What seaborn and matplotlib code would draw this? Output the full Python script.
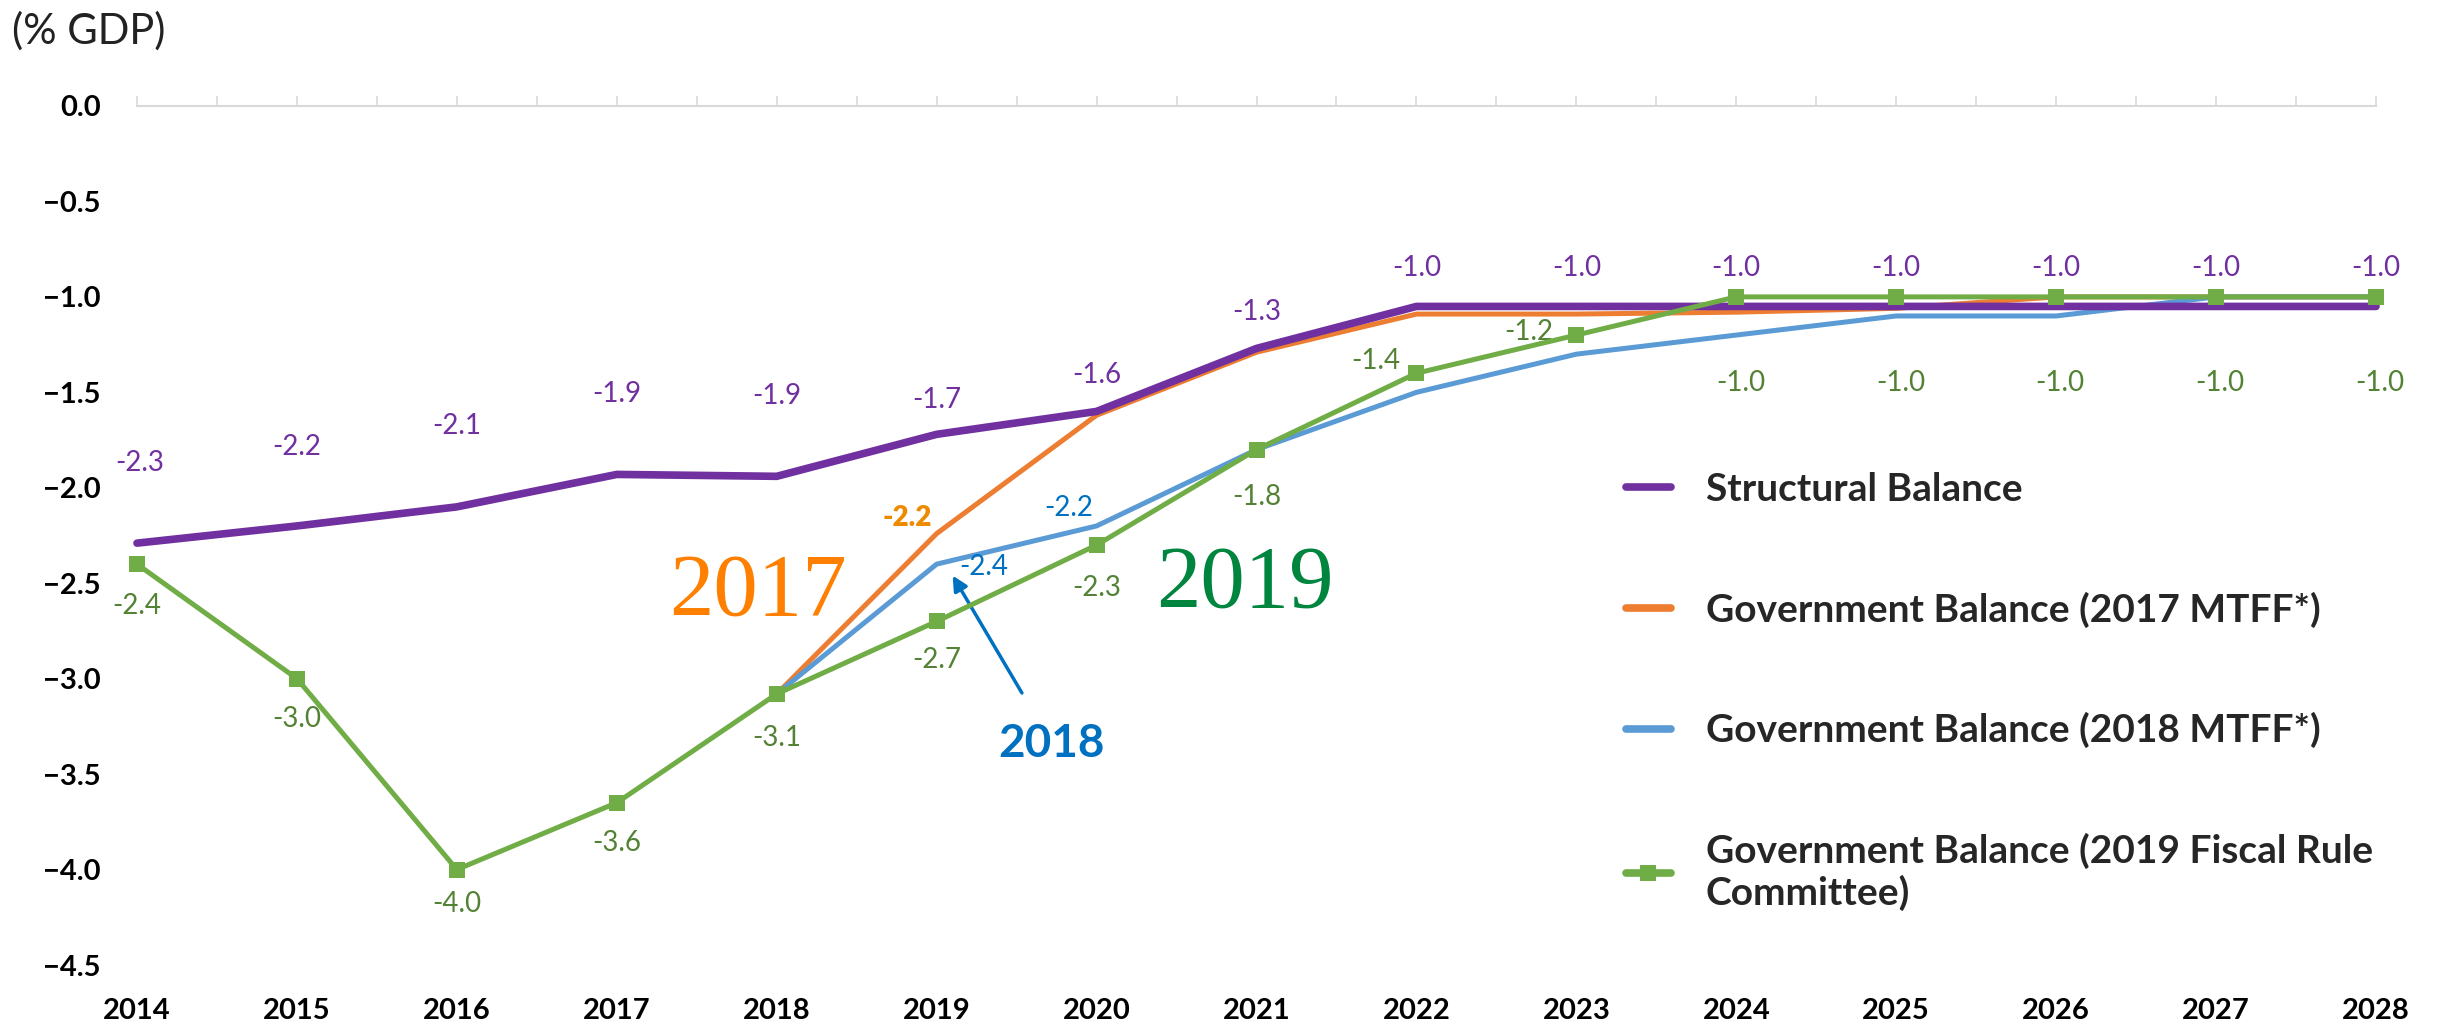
import matplotlib
matplotlib.use('Agg')
import matplotlib.pyplot as plt
from matplotlib.lines import Line2D
import pandas as pd
import seaborn as sns

# values (% GDP)
years = list(range(2014, 2029))
structural = [-2.29, -2.2, -2.1, -1.93, -1.94, -1.72, -1.6, -1.27,
              -1.05, -1.05, -1.05, -1.05, -1.05, -1.05, -1.05]
structural_labels = ['-2.3', '-2.2', '-2.1', '-1.9', '-1.9', '-1.7', '-1.6', '-1.3',
                     '-1.0', '-1.0', '-1.0', '-1.0', '-1.0', '-1.0', '-1.0']

mtff_years = list(range(2018, 2029))
mtff_2017 = [-3.08, -2.24, -1.62, -1.29, -1.09, -1.09, -1.08, -1.06, -1.0, -1.0, -1.0]
mtff_2018 = [-3.08, -2.4, -2.2, -1.8, -1.5, -1.3, -1.2, -1.1, -1.1, -1.0, -1.0]

frc_2019 = [-2.4, -3.0, -4.0, -3.65, -3.08, -2.7, -2.3, -1.8,
            -1.4, -1.2, -1.0, -1.0, -1.0, -1.0, -1.0]
frc_labels = ['-2.4', '-3.0', '-4.0', '-3.6', '-3.1', '-2.7', '-2.3', '-1.8',
              '-1.4', '-1.2', '-1.0', '-1.0', '-1.0', '-1.0', '-1.0']

legend_labels = ['Structural Balance',
                 'Government Balance (2017 MTFF*)',
                 'Government Balance (2018 MTFF*)',
                 'Government Balance (2019 Fiscal Rule\nCommittee)']

# colours
c_purple, c_orange, c_blue, c_green = '#7030A0', '#ED7D31', '#5B9BD5', '#70AD47'

sns.set_theme(style='white')
plt.rcParams['font.family'] = ['Lato', 'DejaVu Sans']

fig = plt.figure(figsize=(24.4, 10.3), dpi=100)
ax = fig.add_axes([137 / 2440, 1 - 965 / 1030, (2376 - 137) / 2440, (965 - 106) / 1030])

df_struct = pd.DataFrame({'year': years, 'value': structural})
df_17 = pd.DataFrame({'year': mtff_years, 'value': mtff_2017})
df_18 = pd.DataFrame({'year': mtff_years, 'value': mtff_2018})
df_19 = pd.DataFrame({'year': years, 'value': frc_2019})

sns.lineplot(data=df_17, x='year', y='value', ax=ax, color=c_orange, lw=3.6, zorder=2)
sns.lineplot(data=df_18, x='year', y='value', ax=ax, color=c_blue, lw=3.6, zorder=3)
sns.lineplot(data=df_struct, x='year', y='value', ax=ax, color=c_purple, lw=5.5, zorder=4)
sns.lineplot(data=df_19, x='year', y='value', ax=ax, color=c_green, lw=3.6, zorder=5,
             marker='s', markersize=11, markeredgewidth=0)
for l in ax.lines:
    l.set_clip_on(False)

# data labels
struct_off = [(2, 58), (0, 57), (0, 58), (0, 58), (0, 58), (0, 25), (0, 26), (0, 26),
              (0, 28), (0, 28), (0, 28), (0, 28), (0, 28), (0, 28), (0, 28)]
for x, y, t, (dx, dy) in zip(years, structural, structural_labels, struct_off):
    ax.annotate(t, (x, y), xytext=(dx, dy), textcoords='offset points',
                ha='center', va='center', color=c_purple, fontsize=20)

frc_off = [(0, -30), (0, -29), (0, -25), (0, -29), (0, -32), (0, -28), (0, -31), (0, -34),
           (-29, 9), (-34, 2), (3, -62), (3, -62), (3, -62), (3, -62), (3, -62)]
for x, y, t, (dx, dy) in zip(years, frc_2019, frc_labels, frc_off):
    ax.annotate(t, (x, y), xytext=(dx, dy), textcoords='offset points',
                ha='center', va='center', color='#548235', fontsize=20)

ax.annotate('-2.2', (mtff_years[1], mtff_2017[1]), xytext=(-21, 11), textcoords='offset points',
            ha='center', va='center', color='#EE8A00', fontsize=20, fontweight='heavy')
ax.annotate('-2.4', (mtff_years[1], mtff_2018[1]), xytext=(34, -2), textcoords='offset points',
            ha='center', va='center', color='#0070C0', fontsize=20)
ax.annotate('-2.2', (mtff_years[2], mtff_2018[2]), xytext=(-20, 13), textcoords='offset points',
            ha='center', va='center', color='#0070C0', fontsize=20)

# vintage annotations
ax.text(2017.88, -2.55, '2017', color='#FF8000', fontsize=64, ha='center', va='center',
        family=['Liberation Serif'])
ax.text(2020.93, -2.51, '2019', color='#00853F', fontsize=64, ha='center', va='center',
        family=['Liberation Serif'])
ax.annotate('2018', xy=(2019.1, -2.46), xytext=(2019.72, -3.34), color='#0070C0',
            fontsize=33, fontweight='bold', ha='center', va='center',
            arrowprops=dict(arrowstyle='-|>', color='#0070C0', lw=2.5,
                            mutation_scale=22, shrinkA=22, shrinkB=0))

# axes styling
ax.set_xlim(2014, 2028)
ax.set_ylim(-4.5, 0)
ax.set_xticks(years)
ax.set_xticks([y + 0.5 for y in years[:-1]], minor=True)
ax.set_yticks([-4.5, -4.0, -3.5, -3.0, -2.5, -2.0, -1.5, -1.0, -0.5, 0.0])
ax.yaxis.set_major_formatter(matplotlib.ticker.StrMethodFormatter('{x:.1f}'))
for s in ['left', 'right', 'bottom']:
    ax.spines[s].set_visible(False)
ax.spines['top'].set_position(('data', 0))
ax.spines['top'].set_color('#D9D9D9')
ax.spines['top'].set_linewidth(1.5)
ax.tick_params(axis='x', which='both', top=True, bottom=False, labeltop=False,
               labelbottom=True, direction='out', length=7, width=1.2, color='#D9D9D9')
ax.tick_params(axis='x', which='major', labelsize=21, pad=17, labelcolor='black')
ax.tick_params(axis='y', length=0, labelsize=21, pad=26, labelcolor='black')
for lab in ax.get_xticklabels() + ax.get_yticklabels():
    lab.set_fontweight('bold')
ax.set_xlabel('')
ax.set_ylabel('')
ax.grid(False)

fig.text(12 / 2440, 1 - 31 / 1030, '(% GDP)', fontsize=30, ha='left', va='center', color='#222222')

handles = [Line2D([], [], color=c_purple, lw=5.5),
           Line2D([], [], color=c_orange, lw=5.5),
           Line2D([], [], color=c_blue, lw=5.5),
           Line2D([], [], color=c_green, lw=5.5, marker='s', markersize=11, markeredgewidth=0)]
leg = fig.legend(handles, legend_labels, loc='upper left', bbox_to_anchor=(1626 / 2440, 1 - 472 / 1030),
                 frameon=False, fontsize=28, handlelength=1.15, handletextpad=0.9,
                 labelspacing=2.17, borderpad=0, borderaxespad=0)
for t in leg.get_texts():
    t.set_fontweight('bold')

fig.savefig('out.png', dpi=100)
